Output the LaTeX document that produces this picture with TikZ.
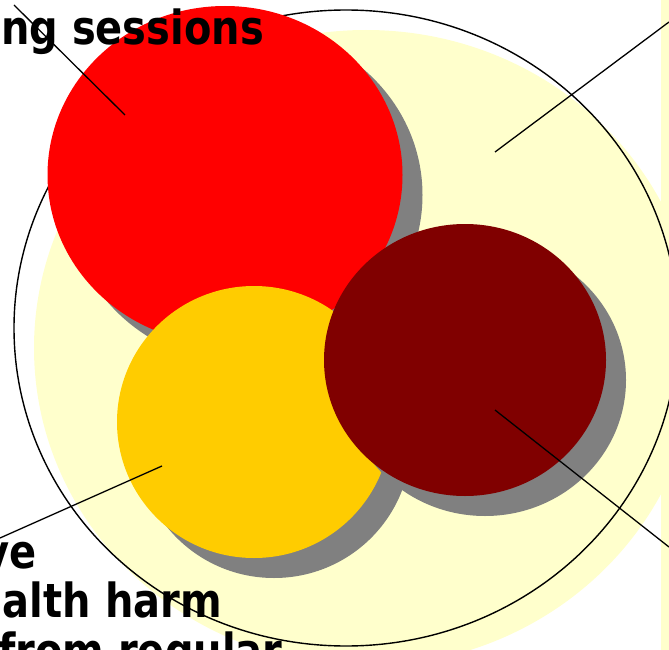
\documentclass[tikz,border=0pt]{standalone}
\usepackage{fontspec}
\newfontfamily\lblfont[FakeStretch=0.85]{DejaVu Sans}
\usetikzlibrary{shapes.geometric}

\definecolor{paleyellow}{HTML}{FFFFCC}
\definecolor{brightred}{HTML}{FF0000}
\definecolor{amber}{HTML}{FFCC00}
\definecolor{maroon}{HTML}{800000}
\definecolor{shadowgray}{HTML}{808080}

\begin{document}
\begin{tikzpicture}[x=1pt, y=-1pt,
  blob/.style={ellipse, inner sep=0pt, draw=none},
  lbl/.style={inner sep=0pt, font=\lblfont\bfseries\fontsize{47}{49}\selectfont},
  lead/.style={line width=1.3pt}]
\useasboundingbox (0,0) rectangle (669,650);
\clip (0,0) rectangle (669,650);
%
% --- Outer ring and its pale shade ---
\node[blob, fill=paleyellow, minimum width=664pt, minimum height=636pt] (shade) at (366,348) {};
\fill[paleyellow] (661,0) rectangle (669,650);
\node[blob, draw=black, line width=1.4pt, minimum width=664pt, minimum height=636pt] (ring) at (346,328) {};
%
% --- Red circle ---
\node[blob, fill=shadowgray, minimum width=355pt, minimum height=338pt] (redsh) at (245,195) {};
\node[blob, fill=brightred, minimum width=355pt, minimum height=338pt] (red) at (225,175) {};
%
% --- Amber circle ---
\node[blob, fill=shadowgray, minimum width=274pt, minimum height=272pt] (ambersh) at (274,442) {};
\node[blob, fill=amber, minimum width=274pt, minimum height=272pt] (amb) at (254,422) {};
%
% --- Maroon circle ---
\node[blob, fill=shadowgray, minimum width=282pt, minimum height=272pt] (maroonsh) at (485,380) {};
\node[blob, fill=maroon, minimum width=282pt, minimum height=272pt] (mar) at (465,360) {};
%
% --- Labels ---
\node[lbl, anchor=base east] (ltop) at (264,45) {ng sessions};
\node[lbl, anchor=base east] (lve) at (37,568) {ve};
\node[lbl, anchor=base east] (lharm) at (222,617) {alth harm};
\node[lbl, anchor=base west] (lreg) at (-2,667) {from regular};
%
% --- Leader lines ---
\coordinate (t1) at (14,5);
\coordinate (p1) at (125,115);
\coordinate (t2) at (669,22);
\coordinate (p2) at (495,152);
\coordinate (t3) at (669,547);
\coordinate (p3) at (495,410);
\coordinate (t4) at (0,538);
\coordinate (p4) at (162,466);
\draw[lead] (t1)--(p1);
\draw[lead] (t2)--(p2);
\draw[lead] (t3)--(p3);
\draw[lead] (t4)--(p4);
%
\end{tikzpicture}
\end{document}
